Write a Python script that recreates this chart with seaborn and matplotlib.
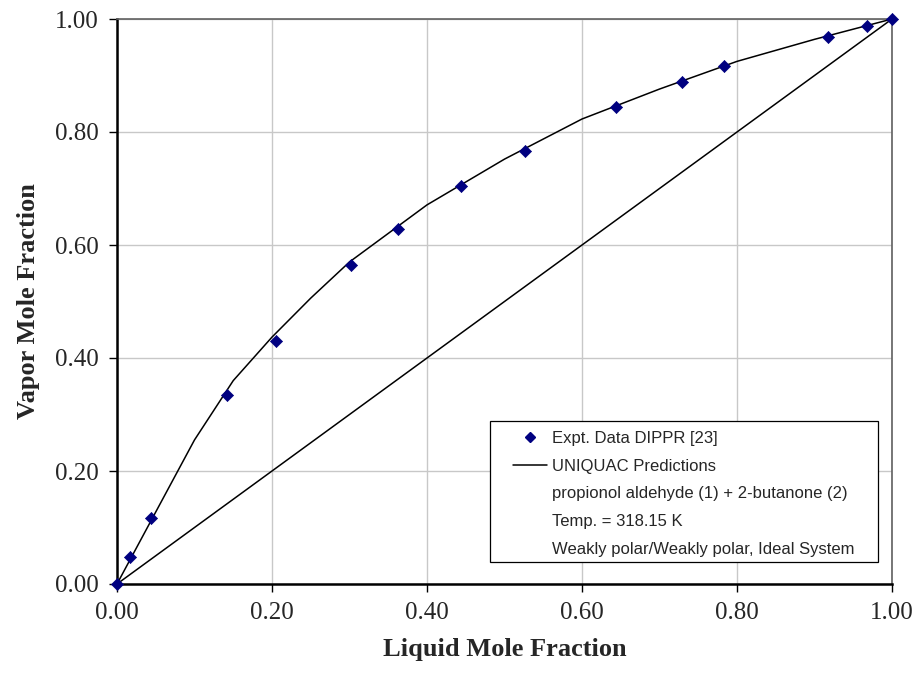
import matplotlib
matplotlib.use("Agg")
import matplotlib.pyplot as plt
from matplotlib.lines import Line2D
from matplotlib.patches import Rectangle
from matplotlib.legend_handler import HandlerBase
import seaborn as sns
import pandas as pd

# Experimental data (DIPPR)
x_exp = [0.0, 0.017, 0.044, 0.142, 0.205, 0.302, 0.363, 0.444, 0.526, 0.644, 0.729, 0.783, 0.917, 0.968, 1.0]
y_exp = [0.0, 0.048, 0.117, 0.335, 0.430, 0.565, 0.628, 0.704, 0.766, 0.844, 0.888, 0.917, 0.968, 0.988, 1.0]

# UNIQUAC predictions
x_uni = [0.0, 0.1, 0.15, 0.2, 0.25, 0.3, 0.4, 0.5, 0.6, 0.7, 0.8, 0.9, 1.0]
y_uni = [0.0, 0.255, 0.360, 0.437, 0.506, 0.570, 0.671, 0.752, 0.823, 0.876, 0.925, 0.964, 1.0]

# Ideal (x = y)
x_ideal = [0.0, 1.0]
y_ideal = [0.0, 1.0]

ticks = [0.0, 0.2, 0.4, 0.6, 0.8, 1.0]
tick_labels = ["0.00", "0.20", "0.40", "0.60", "0.80", "1.00"]

legend_labels = ["Expt. Data DIPPR [23]", "UNIQUAC Predictions",
                 "propionol aldehyde (1) + 2-butanone (2)",
                 "Temp. = 318.15 K",
                 "Weakly polar/Weakly polar, Ideal System"]

sns.set_style("white")
plt.rcParams["font.family"] = ["Liberation Serif", "DejaVu Serif"]

W, H = 919, 688
AX_L, AX_R, AX_T, AX_B = 117, 892, 19, 584

fig = plt.figure(figsize=(W / 100, H / 100), dpi=100)
ax = fig.add_axes([AX_L / W, 1 - AX_B / H, (AX_R - AX_L) / W, (AX_B - AX_T) / H])

df_uni = pd.DataFrame({"x": x_uni, "y": y_uni})
df_ideal = pd.DataFrame({"x": x_ideal, "y": y_ideal})
df_exp = pd.DataFrame({"x": x_exp, "y": y_exp})

sns.lineplot(data=df_uni, x="x", y="y", ax=ax, color="black", linewidth=1.1,
             sort=False, estimator=None, zorder=3)
sns.lineplot(data=df_ideal, x="x", y="y", ax=ax, color="black", linewidth=1.1,
             sort=False, estimator=None, zorder=3)
sns.scatterplot(data=df_exp, x="x", y="y", ax=ax, marker="D", color="#000080",
                edgecolor="#000080", s=38, zorder=4, clip_on=False)

ax.set_xlim(0, 1)
ax.set_ylim(0, 1)
ax.set_xticks(ticks)
ax.set_yticks(ticks)
ax.set_xticklabels(tick_labels, fontsize=18)
ax.set_yticklabels(tick_labels, fontsize=18)
ax.grid(True, color="#c8c8c8", linewidth=1.0)
ax.set_axisbelow(True)

for side in ["left", "bottom"]:
    ax.spines[side].set_color("black")
    ax.spines[side].set_linewidth(1.8)
for side in ["top", "right"]:
    ax.spines[side].set_color("#606060")
    ax.spines[side].set_linewidth(1.2)

ax.tick_params(axis="both", direction="out", length=6, width=1, color="black",
               left=True, bottom=True, pad=7)

ax.set_xlabel("Liquid Mole Fraction", fontsize=19, fontweight="bold", labelpad=10)
ax.set_ylabel("Vapor Mole Fraction", fontsize=19, fontweight="bold", labelpad=11)


class PartialHandler(HandlerBase):
    def __init__(self, kind, **kw):
        super().__init__(**kw)
        self.kind = kind

    def create_artists(self, legend, orig_handle, xdescent, ydescent, width,
                       height, fontsize, trans):
        y = height / 2 - ydescent
        if self.kind == "marker":
            a = Line2D([-xdescent + width * 0.6], [y], marker="D", color="#000080",
                       markersize=5.5, linestyle="none")
        elif self.kind == "line":
            a = Line2D([-xdescent + width * 0.19, -xdescent + width], [y, y],
                       color="black", linewidth=1.1)
        else:
            a = Line2D([], [], linestyle="none")
        a.set_transform(trans)
        return [a]


h_marker = Line2D([], [], marker="D", color="#000080", linestyle="none")
h_line = Line2D([], [], color="black")
h_blank = [Line2D([], [], linestyle="none") for _ in range(3)]
handles = [h_marker, h_line] + h_blank
hmap = {h_marker: PartialHandler("marker"), h_line: PartialHandler("line")}
for hb in h_blank:
    hmap[hb] = PartialHandler("blank")

# legend frame (drawn separately)
box_x0, box_x1, box_top, box_bot = 490, 878, 421, 562
frame = Rectangle(((box_x0 - AX_L) / (AX_R - AX_L), (AX_B - box_bot) / (AX_B - AX_T)),
                  (box_x1 - box_x0) / (AX_R - AX_L), (box_bot - box_top) / (AX_B - AX_T),
                  transform=ax.transAxes, facecolor="white", edgecolor="black",
                  linewidth=0.9, zorder=5)
ax.add_patch(frame)

leg = ax.legend(handles, legend_labels, handler_map=hmap, loc="upper left",
                bbox_to_anchor=((505 - AX_L) / (AX_R - AX_L), (AX_B - 431) / (AX_B - AX_T)),
                prop={"family": "Liberation Sans", "size": 12},
                frameon=False, borderpad=0, labelspacing=0.76,
                handlelength=2.5, handletextpad=0.3, borderaxespad=0)
leg.set_zorder(6)

fig.savefig("out.png", dpi=100)
